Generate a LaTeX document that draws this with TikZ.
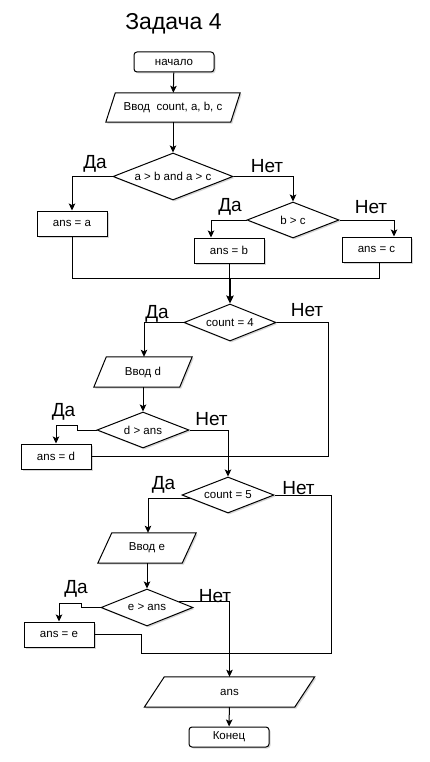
\documentclass[tikz,border=0pt]{standalone}
\usepackage{fontspec}
\setmainfont{Liberation Sans}
\usetikzlibrary{shapes.geometric,arrows.meta,shadows}
\pgfdeclarelayer{bg}
\pgfsetlayers{bg,main}
\newcommand\drawpara[2]{\draw[para] ([xshift=-#2]#1.south west) -- ([xshift=-#2]#1.south east) -- ([xshift=#2]#1.north east) -- ([xshift=#2]#1.north west) -- cycle;}
\begin{document}
\begin{tikzpicture}[x=1pt,y=-1pt,
  every node/.style={font=\fontsize{11.5}{13}\selectfont, inner sep=0pt},
  shad/.style={drop shadow={shadow xshift=1.5pt,shadow yshift=-1.5pt,fill=black!35,opacity=0.45}},
  box/.style={draw=black, line width=1pt, fill=white, shad, minimum width=70pt, minimum height=25pt},
  term/.style={box, rounded corners=3pt, minimum width=80pt, minimum height=20pt},
  dec/.style={diamond, draw=black, line width=1pt, fill=white, shad, aspect=2.5, minimum width=92pt, minimum height=36pt},
  io/.style={minimum height=30pt},
  para/.style={draw=black, line width=1pt, fill=white, shad},
  lab/.style={font=\fontsize{19}{21}\selectfont},
  con/.style={line width=1pt, draw=black},
  arr/.style={con, -{Stealth[length=7pt,width=6.5pt,inset=1.5pt]}},
  thickarr/.style={line width=2pt, draw=black, -{Stealth[length=8pt,width=7.5pt,inset=1.5pt]}},
]
\useasboundingbox (0,0) rectangle (430,762);

% title
\node[font=\fontsize{23}{26}\selectfont] (title) at (173.5,24) {Задача 4};

% nodes
\node[term] (start) at (174,62) {начало};
\node[io, minimum width=124.5pt, minimum height=29pt] (in1) at (173,107.5) {Ввод\ \ count, a, b, c};
\node[dec, minimum width=120pt, minimum height=47pt] (d1) at (173,176.5) {a > b and a > c};
\node[box] (a1) at (72,223.5) {ans = a};
\node[dec] (d2) at (293,220) {b > c};
\node[box] (b1) at (229,250.5) {ans = b};
\node[box, minimum width=69pt] (c1) at (376.5,249.5) {ans = c};
\coordinate (m1) at (230,278);
\node[dec, minimum height=37pt] (d3) at (230,322.5) {count = 4};
\node[io, minimum width=85.5pt] (in2) at (143,372) {Ввод d};
\node[dec] (d4) at (143,430) {d > ans};
\node[box] (a4) at (56,456.5) {ans = d};
\node[dec] (d5) at (228,495) {count = 5};
\node[io, minimum width=84pt] (in3) at (147,548) {Ввод e};
\node[dec, minimum height=37pt] (d6) at (147,607.5) {e > ans};
\node[box] (a5) at (59,634.5) {ans = e};
\node[io, minimum width=150pt] (out) at (229.5,692) {ans};
\node[term] (end) at (229,737) {Конец};

% parallelogram outlines (behind text)
\begin{pgfonlayer}{bg}
\fill[white] (0,0) rectangle (430,762);
\drawpara{in1}{4.75pt}
\drawpara{in2}{6.25pt}
\drawpara{in3}{7pt}
\drawpara{out}{10pt}
\end{pgfonlayer}

% helper coordinates
\coordinate (j1) at (77,425);
\coordinate (r4) at (328,456.5);
\coordinate (j2) at (81,603);
\coordinate (r5) at (331,653);
\coordinate (r6) at (141,634.5);

% connectors
\draw[arr] (start) -- (in1);
\draw[arr] (in1) -- (d1);
\draw[arr] (d1.west) -| (a1.north);
\draw[arr] (d1.east) -| (d2.north);
\draw[arr] (d2.west) -| ([xshift=-18pt]b1.north);
\draw[arr] (d2.east) -| ([xshift=17.5pt]c1.north);
\draw[con] (a1.south) |- (m1);
\draw[con] (b1.south) -- (b1.south |- m1);
\draw[con] ([xshift=2.5pt]c1.south) |- (m1);
\draw[thickarr] (m1) -- (d3.north);
\draw[arr] (d3.west) -| ([xshift=1pt]in2.north);
\draw[con] (d3.east) -| (r4) -- (a4.east);
\draw[arr] (in2) -- (d4);
\draw[arr] (d4.west) -| (j1) -| (a4.north);
\draw[arr] (d4.east) -| (d5.north);
\draw[arr] (d5.185) -| ([xshift=1pt]in3.north);
\draw[con] (d5.east) -| (r5) -| (r6) -- (a5.east);
\draw[arr] (in3) -- (d6);
\draw[arr] (d6.west) -| (j2) -| (a5.north);
\draw[arr] (d6.10) -| (out.north);
\draw[arr] (out) -- (end);

% labels
\node[lab] (y1) at (95,164) {Да};
\node[lab] (n1) at (267,166) {Нет};
\node[lab] (y2) at (230,207) {Да};
\node[lab] (n2) at (371,207) {Нет};
\node[lab] (y3) at (157,314) {Да};
\node[lab] (n3) at (307,310) {Нет};
\node[lab] (y4) at (63.5,412) {Да};
\node[lab] (n4) at (211.5,419) {Нет};
\node[lab] (y5) at (163.5,485) {Да};
\node[lab] (n5) at (298.5,488) {Нет};
\node[lab] (y6) at (76,589) {Да};
\node[lab] (n6) at (215,596) {Нет};
\end{tikzpicture}
\end{document}
